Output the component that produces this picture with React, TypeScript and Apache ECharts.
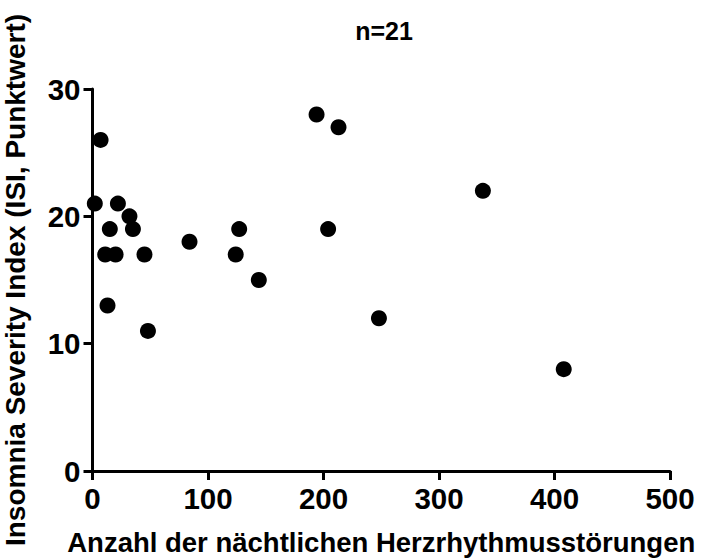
import React, { useEffect, useRef } from "react";
import * as echarts from "echarts";

// Nächtliche Herzrhythmusstörungen (Anzahl) je Patient
const arrhythmiaCounts = [2, 7, 11, 13, 15, 20, 22, 32, 35, 45, 48, 84, 124, 127, 144, 194, 204, 213, 248, 338, 408];
// ISI-Punktwert je Patient
const isiScores = [21, 26, 17, 13, 19, 17, 21, 20, 19, 17, 11, 18, 17, 19, 15, 28, 19, 27, 12, 22, 8];

const xTicks = [0, 100, 200, 300, 400, 500];
const yTicks = [0, 10, 20, 30];

const FONT = "'Liberation Sans', Arial, Helvetica, sans-serif";

export default function App() {
  const ref = useRef<HTMLDivElement>(null);

  useEffect(() => {
    if (!ref.current) return;
    const chart = echarts.init(ref.current, undefined, { renderer: "svg" });
    const points = arrhythmiaCounts.map((x, i) => [x, isiScores[i]]);

    const axisCommon = {
      axisLine: { show: true, onZero: false, lineStyle: { color: "#000", width: 3 } },
      axisTick: { show: true, inside: false, length: 9, lineStyle: { color: "#000", width: 3 } },
      splitLine: { show: false },
      axisLabel: {
        color: "#000",
        fontFamily: FONT,
        fontWeight: "bold" as const,
        fontSize: 29.5,
      },
      nameTextStyle: {
        color: "#000",
        fontFamily: FONT,
        fontWeight: "bold" as const,
        fontSize: 27.5,
      },
    };

    chart.setOption({
      animation: false,
      backgroundColor: "#fff",
      title: {
        text: "n=21",
        left: 379,
        textAlign: "center",
        top: 13,
        textStyle: { color: "#000", fontFamily: FONT, fontWeight: "bold", fontSize: 25 },
      },
      grid: {
        left: 92.5,
        right: 34,
        top: 89,
        bottom: 89,
        containLabel: false,
        outerBoundsMode: "none",
      },
      xAxis: {
        type: "value",
        min: xTicks[0],
        max: xTicks[xTicks.length - 1],
        interval: 100,
        name: "Anzahl der nächtlichen Herzrhythmusstörungen",
        nameLocation: "middle",
        nameGap: 57,
        ...axisCommon,
        axisLabel: { ...axisCommon.axisLabel, margin: 12 },
      },
      yAxis: {
        type: "value",
        min: yTicks[0],
        max: yTicks[yTicks.length - 1],
        interval: 10,
        name: "Insomnia Severity Index (ISI, Punktwert)",
        nameLocation: "middle",
        nameGap: 63,
        ...axisCommon,
        axisLabel: { ...axisCommon.axisLabel, margin: 12 },
        nameTextStyle: { ...axisCommon.nameTextStyle, fontSize: 28 },
      },
      series: [
        {
          type: "scatter",
          data: points,
          symbol: "circle",
          symbolSize: 16,
          clip: false,
          itemStyle: { color: "#000", opacity: 1 },
        },
      ],
    });

    return () => chart.dispose();
  }, []);

  return <div ref={ref} style={{ width: 704, height: 560, position: "absolute", left: 0, top: 0 }} />;
}
